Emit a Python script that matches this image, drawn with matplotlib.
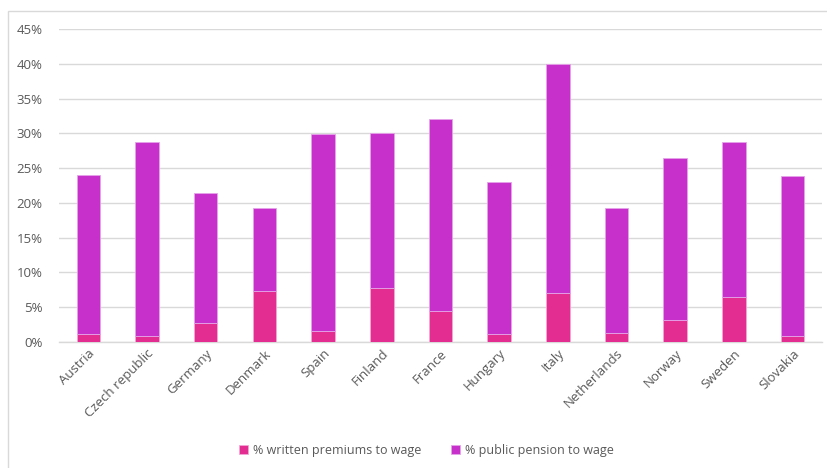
import matplotlib.pyplot as plt
from matplotlib.patches import Rectangle
from matplotlib.ticker import PercentFormatter

countries = ["Austria", "Czech republic", "Germany", "Denmark", "Spain", "Finland",
             "France", "Hungary", "Italy", "Netherlands", "Norway", "Sweden", "Slovakia"]
premiums = [1.2, 0.9, 2.8, 7.4, 1.6, 7.7, 4.4, 1.2, 7.1, 1.3, 3.2, 6.5, 0.9]
public_pension = [22.8, 27.9, 18.6, 11.9, 28.3, 22.4, 27.7, 21.8, 32.9, 18.0, 23.2, 22.2, 22.9]

pink = "#E32D91"
purple = "#C830CC"
grey = "#595959"

plt.rcParams['font.family'] = ['Open Sans', 'DejaVu Sans']

fig = plt.figure(figsize=(8.27, 4.68), dpi=100)
ax = fig.add_axes([0.0713, 0.2692, 0.9226, 0.6688])

x = range(len(countries))
ax.bar(x, premiums, width=0.4, color=pink, edgecolor="#F3A6D6", linewidth=0.6,
       label="% written premiums to wage", zorder=3)
ax.bar(x, public_pension, width=0.4, bottom=premiums, color=purple, edgecolor="#E6A3E8",
       linewidth=0.6, label="% public pension to wage", zorder=3)

ax.set_xlim(-0.5, len(countries) - 0.5)
ax.set_ylim(0, 45)
ax.set_yticks(range(0, 46, 5))
ax.yaxis.set_major_formatter(PercentFormatter(decimals=0))
ax.grid(axis="y", color="#D9D9D9", linewidth=1, zorder=0)
for s in ["top", "right", "left"]:
    ax.spines[s].set_visible(False)
ax.spines["bottom"].set_color("#D9D9D9")
ax.spines["bottom"].set_linewidth(1)
ax.tick_params(axis="both", length=0, colors=grey, labelsize=9.5)
ax.tick_params(axis="y", pad=12)
ax.set_xticks(list(x))
ax.set_xticklabels(countries, rotation=45, ha="right", rotation_mode="anchor")

fig.legend(loc="lower center", bbox_to_anchor=(0.516, 0.0), ncol=2, frameon=False,
           fontsize=9, labelcolor=grey, handlelength=0.7, handleheight=0.7,
           columnspacing=2.4, handletextpad=0.4)

# thin frame round the chart (left and top edges show)
fig.patches.append(Rectangle((0.0097, -0.05), 1.1, 1.0265, transform=fig.transFigure,
                             fill=False, edgecolor="#D9D9D9", linewidth=1))

fig.savefig("out.png", dpi=100)
